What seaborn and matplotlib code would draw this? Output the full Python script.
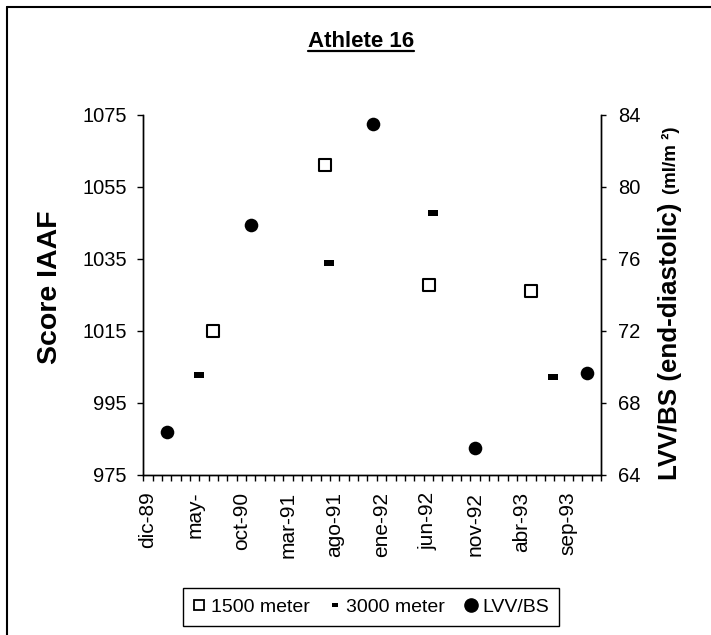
import matplotlib
matplotlib.use("Agg")
import matplotlib.pyplot as plt
import seaborn as sns
import numpy as np
import pandas as pd
from matplotlib.path import Path
from matplotlib.lines import Line2D

# ---- data (x = months since dic-89) ----
tick_labels = ["dic-89", "may-", "oct-90", "mar-91", "ago-91",
               "ene-92", "jun-92", "nov-92", "abr-93", "sep-93"]
n_months = 49

m1500 = [7.49, 19.47, 30.6, 41.5]
score_1500 = [1015, 1061, 1027.7, 1026]

m3000 = [6.0, 19.86, 31.0, 43.85]
score_3000 = [1002.7, 1033.8, 1047.7, 1002.1]

m_lvv = [2.57, 11.5, 24.57, 35.5, 47.5]
lvv_bs = [66.4, 77.9, 83.5, 65.5, 69.65]

sns.set_style("white")
plt.rcParams['font.family'] = ['Liberation Sans', 'DejaVu Sans']
for k in ("text.color", "axes.labelcolor", "xtick.color", "ytick.color"):
    plt.rcParams[k] = "black"

W, H = 711, 635
fig = plt.figure(figsize=(W / 100, H / 100), dpi=100)
L, R, B, T = 143.3, 601, 475, 115
ax = fig.add_axes([L / W, 1 - B / H, (R - L) / W, (B - T) / H])
ax2 = ax.twinx()

dash = Path([(-1, -0.5), (1, -0.5), (1, 0.5), (-1, 0.5), (-1, -0.5)],
            [Path.MOVETO, Path.LINETO, Path.LINETO, Path.LINETO, Path.CLOSEPOLY])

df1 = pd.DataFrame({"m": m1500, "v": score_1500})
df2 = pd.DataFrame({"m": m3000, "v": score_3000})
df3 = pd.DataFrame({"m": m_lvv, "v": lvv_bs})

sns.scatterplot(data=df1, x="m", y="v", ax=ax, marker="s", s=64,
                color="white", edgecolor="black", linewidth=1.5, zorder=3)
sns.scatterplot(data=df2, x="m", y="v", ax=ax, marker=dash, s=52,
                color="black", edgecolor="black", linewidth=0, zorder=3)
sns.scatterplot(data=df3, x="m", y="v", ax=ax2, marker="o", s=96,
                color="black", edgecolor="black", linewidth=0, zorder=3)

ax.set_xlim(0, n_months)
ax.set_ylim(975, 1075)
ax2.set_ylim(64, 84)
ax.set_yticks(np.arange(975, 1076, 20))
ax2.set_yticks(np.arange(64, 85, 4))
ax.set_xlabel("")
ax.set_ylabel("")
ax2.set_ylabel("")

ax.set_xticks(np.arange(0, n_months + 1, 1), minor=True)
ax.set_xticks(np.arange(len(tick_labels)) * 5 + 0.5)
ax.set_xticklabels(tick_labels, rotation=90)
ax.tick_params(axis="x", which="major", length=0, pad=12, labelsize=15)
ax.tick_params(axis="x", which="minor", length=4, width=1, direction="out",
               color="black", bottom=True)
ax.tick_params(axis="y", length=4.3, width=1, direction="out", color="black",
               labelsize=14.5, pad=7.5, left=True)
ax2.tick_params(axis="y", length=3.8, width=1, direction="out", color="black",
                labelsize=14.5, pad=8.5, right=True)

for a in (ax, ax2):
    a.spines["top"].set_visible(False)
    for s in ("left", "bottom", "right"):
        a.spines[s].set_color("black")
        a.spines[s].set_linewidth(1)
    a.set_facecolor("none")
    a.grid(False)

# axis labels
fig.text(50 / W, 1 - 287 / H, "Score IAAF", rotation=90, ha="center",
         va="center", fontsize=20.5, fontweight="bold")
fig.text(682 / W, 1 - 480 / H, "LVV/BS (end-diastolic)", rotation=90,
         ha="right", va="bottom", fontsize=18.7, fontweight="bold")
fig.text(680 / W, 1 - 194 / H, "(ml/m ²)", rotation=90,
         ha="right", va="bottom", fontsize=13.5, fontweight="bold")

# title with underline
title = fig.text(361 / W, 1 - 47 / H, "Athlete 16", ha="center", va="baseline",
                 fontsize=16, fontweight="bold")
fig.canvas.draw()
bb = title.get_window_extent(renderer=fig.canvas.get_renderer())
yl = 1 - 51 / H
fig.add_artist(Line2D([bb.x0 / W, bb.x1 / W], [yl, yl],
                      transform=fig.transFigure, color="black", lw=1.6))

# outer frame (top and left only)
fig.add_artist(Line2D([7 / W, 1], [1 - 7 / H, 1 - 7 / H],
                      transform=fig.transFigure, color="black", lw=1.5))
fig.add_artist(Line2D([7 / W, 7 / W], [0, 1 - 7 / H],
                      transform=fig.transFigure, color="black", lw=1.5))

# legend
handles = [
    Line2D([], [], ls="none", marker="s", markersize=6.5, markerfacecolor="white",
           markeredgecolor="black", markeredgewidth=1.3),
    Line2D([], [], ls="none", marker=dash, markersize=5, color="black",
           markeredgewidth=0),
    Line2D([], [], ls="none", marker="o", markersize=9.5, color="black"),
]
leg = fig.legend(handles, ["1500 meter", "3000 meter", "LVV/BS"], ncol=3,
                 loc="center", bbox_to_anchor=(371 / W, 1 - 607 / H),
                 frameon=True, fancybox=False, fontsize=14, handlelength=0.6,
                 handletextpad=0.3, columnspacing=1.0, borderpad=0.5,
                 edgecolor="black", framealpha=1)
leg.get_frame().set_linewidth(1)

fig.savefig("out.png", dpi=100)
